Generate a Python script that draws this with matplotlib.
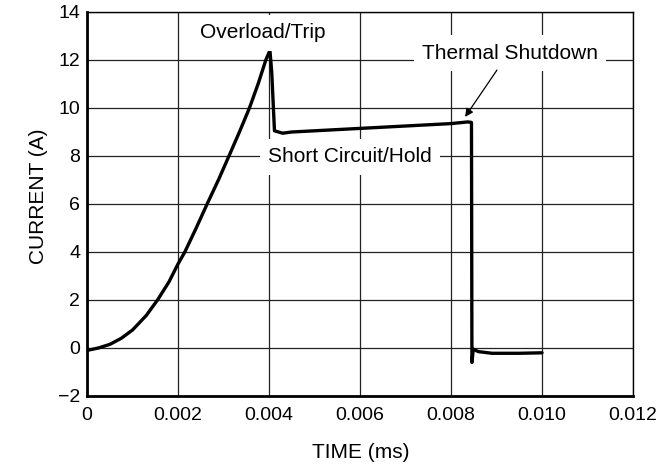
"""Current vs. time trace: overload trip, short-circuit hold, thermal shutdown."""

import matplotlib

matplotlib.use("Agg")
import matplotlib.pyplot as plt  # noqa: E402

# trace
time_s = [0.0, 0.00025, 0.0005, 0.00075, 0.001, 0.0013, 0.00155, 0.0018,
          0.002, 0.00215, 0.0024, 0.00264, 0.0029, 0.00312, 0.00335,
          0.00357, 0.00376, 0.00393, 0.00402, 0.00406, 0.00412, 0.0043,
          0.0045, 0.005, 0.006, 0.007, 0.008, 0.00837, 0.00845, 0.00846,
          0.00849, 0.0086, 0.0089, 0.0095, 0.010]
current_a = [-0.1, 0.0, 0.15, 0.4, 0.75, 1.35, 2.0, 2.75,
             3.5, 4.0, 5.0, 6.0, 7.05, 8.0, 9.0,
             10.0, 11.0, 12.0, 12.4, 11.5, 9.05, 8.95,
             9.0, 9.05, 9.15, 9.25, 9.35, 9.42, 9.4, -0.6,
             -0.05, -0.15, -0.22, -0.22, -0.2]

x_ticks = [0, 0.002, 0.004, 0.006, 0.008, 0.010, 0.012]
x_tick_labels = ["0", "0.002", "0.004", "0.006", "0.008", "0.010", "0.012"]
y_ticks = [-2, 0, 2, 4, 6, 8, 10, 12, 14]
y_tick_labels = ["\u22122", "0", "2", "4", "6", "8", "10", "12", "14"]

plt.rcParams["font.family"] = ["Liberation Sans", "DejaVu Sans"]

fig = plt.figure(figsize=(6.59, 4.70), dpi=100)
ax = fig.add_axes([87 / 659, 1 - 396 / 470, (633 - 87) / 659, (396 - 12) / 470])

ax.plot(time_s, current_a, color="black", linewidth=2.4, solid_joinstyle="round",
        solid_capstyle="round", zorder=3)

ax.set_xlim(0, 0.012)
ax.set_ylim(-2, 14)
ax.set_xticks(x_ticks)
ax.set_xticklabels(x_tick_labels)
ax.set_yticks(y_ticks)
ax.set_yticklabels(y_tick_labels)
ax.tick_params(length=0, labelsize=14)
ax.tick_params(axis="x", pad=8)
ax.tick_params(axis="y", pad=5)
ax.grid(True, color="#222222", linewidth=0.9)

for side in ("left", "bottom"):
    ax.spines[side].set_linewidth(2.0)
for side in ("top", "right"):
    ax.spines[side].set_linewidth(1.0)

ax.set_xlabel("TIME (ms)", fontsize=15)
ax.set_ylabel("CURRENT (A)", fontsize=15)
ax.xaxis.set_label_coords(0.502, -0.146)
ax.yaxis.set_label_coords(-0.088, 0.52)
ax.xaxis.label.set_va("center")
ax.yaxis.label.set_va("center")

box = dict(facecolor="white", edgecolor="none", pad=6)
ax.text(0.00386, 13.13, "Overload/Trip", fontsize=15, ha="center", va="center",
        bbox=box, zorder=4)
ax.text(0.00578, 7.96, "Short Circuit/Hold", fontsize=15, ha="center",
        va="center", bbox=box, zorder=4)
ax.text(0.0093, 12.29, "Thermal Shutdown", fontsize=15, ha="center",
        va="center", bbox=box, zorder=4)
ax.annotate("", xy=(0.00831, 9.63), xytext=(0.00901, 11.58),
            arrowprops=dict(arrowstyle="-|>", color="black", lw=0.9,
                            mutation_scale=12, shrinkA=0, shrinkB=0), zorder=4)

fig.savefig("out.png", dpi=100)
